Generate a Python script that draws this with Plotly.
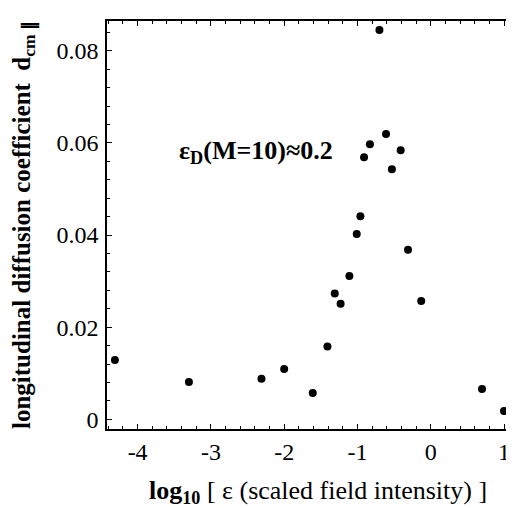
import plotly.graph_objects as go

# data
log_eps = [-4.31, -3.30, -2.31, -2.00, -1.61, -1.41, -1.31, -1.23, -1.11, -1.01, -0.96,
           -0.91, -0.83, -0.70, -0.61, -0.53, -0.41, -0.31, -0.13, 0.70, 1.00]
d_cm = [0.0129, 0.0081, 0.0088, 0.0109, 0.0057, 0.0158, 0.0273, 0.0251, 0.0311, 0.0402, 0.0441,
        0.0569, 0.0597, 0.0845, 0.0619, 0.0543, 0.0584, 0.0368, 0.0257, 0.0066, 0.0018]
x_ticks = [-4, -3, -2, -1, 0, 1]
x_tick_labels = ["-4", "-3", "-2", "-1", "0", "1"]
y_ticks = [0, 0.02, 0.04, 0.06, 0.08]
y_tick_labels = ["0", "0.02", "0.04", "0.06", "0.08"]

FONT = "Liberation Serif"

fig = go.Figure()
fig.add_trace(go.Scatter(
    x=log_eps, y=d_cm, mode="markers",
    marker=dict(color="black", size=8),
    showlegend=False, hoverinfo="skip", cliponaxis=False,
))

axis_common = dict(
    showgrid=False, zeroline=False,
    showline=True, linecolor="black", linewidth=1.5,
    ticks="inside", ticklen=5, tickwidth=1, tickcolor="black",
    mirror="ticks",
    tickfont=dict(family=FONT, size=24, color="black"),
)

fig.update_xaxes(
    range=[-4.418, 1.109], tickmode="array", tickvals=x_ticks, ticktext=x_tick_labels,
    minor=dict(dtick=0.2, ticks="inside", ticklen=3, tickcolor="black", tickwidth=1),
    **axis_common,
)
fig.update_yaxes(
    range=[-0.0021, 0.08645], tickmode="array", tickvals=y_ticks, ticktext=y_tick_labels,
    minor=dict(dtick=0.004, ticks="inside", ticklen=3, tickcolor="black", tickwidth=1),
    ticklabelstandoff=2,
    **axis_common,
)

# axis titles
fig.add_annotation(
    xref="paper", yref="paper", x=0, y=0.5, xanchor="center", yanchor="middle",
    xshift=-83, yshift=0, textangle=-90, showarrow=False,
    text="<b>longitudinal diffusion coefficient  d<sub>cm ∥</sub></b>",
    font=dict(family=FONT, size=25, color="black"),
)
fig.add_annotation(
    xref="paper", yref="paper", x=0.522, y=0, xanchor="center", yanchor="middle",
    yshift=-63, showarrow=False,
    text="<b>log<sub>10</sub></b> [ ε (scaled field intensity) ]",
    font=dict(family=FONT, size=26, color="black"),
)

fig.add_annotation(
    x=-2.38, y=0.058, xref="x", yref="y",
    text="<b>ε<sub>D</sub>(M=10)≈0.2</b>", showarrow=False,
    font=dict(family=FONT, size=26, color="black"),
)

fig.update_layout(
    width=506, height=500,
    margin=dict(l=99, r=0, t=13, b=79),
    plot_bgcolor="white", paper_bgcolor="white",
)

fig.write_html("out.html")
